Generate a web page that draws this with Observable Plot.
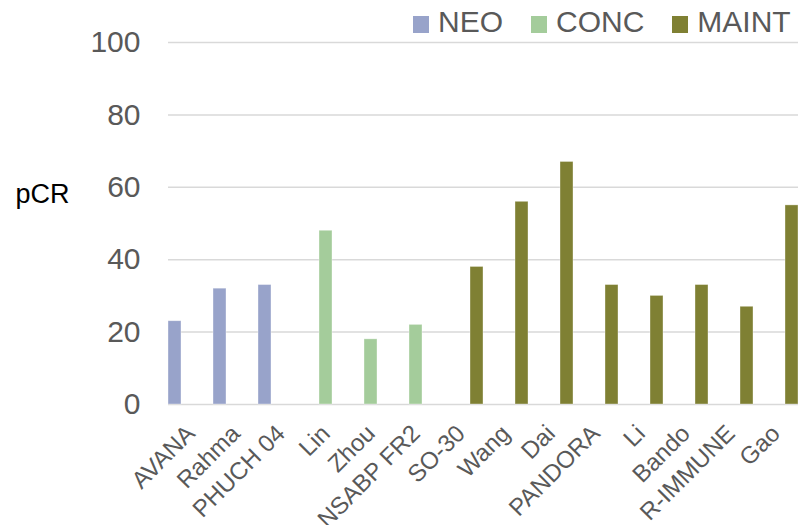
<!DOCTYPE html>
<html>
<head>
<meta charset="utf-8">
<script src="https://cdn.jsdelivr.net/npm/d3@7"></script>
<script src="https://cdn.jsdelivr.net/npm/@observablehq/plot@0.6"></script>
<style>
  html, body { margin: 0; padding: 0; background: #fff; }
  #wrap { position: relative; width: 798px; height: 525px; font-family: "Liberation Sans", Arial, sans-serif; }
  #legend { position: absolute; left: 413px; top: 3px; display: flex; align-items: center; font-size: 30px; color: #595959; line-height: 38px; }
  #legend .item { display: flex; align-items: center; margin-right: 28px; }
  #legend .sw { width: 16px; height: 17px; margin-right: 9px; margin-top: 4px; }
  svg { font-family: "Liberation Sans", Arial, sans-serif; }
</style>
</head>
<body>
<div id="wrap"><div id="legend"></div></div>
<script>
const studies = ["AVANA","Rahma","PHUCH 04","Lin","Zhou","NSABP FR2","SO-30","Wang","Dai","PANDORA","Li","Bando","R-IMMUNE","Gao"];
const groups  = ["NEO","NEO","NEO","CONC","CONC","CONC","MAINT","MAINT","MAINT","MAINT","MAINT","MAINT","MAINT","MAINT"];
const pcr     = [23, 32, 33, 48, 18, 22, 38, 56, 67, 33, 30, 33, 27, 55];
const seriesNames = ["NEO","CONC","MAINT"];
const seriesColors = ["#98A3CA","#A4CC9B","#7F8033"];
const yTicks = [0, 20, 40, 60, 80, 100];

const rows = studies.map((s, i) => ({study: s, group: groups[i], pcr: pcr[i]}));

// inset per series so the three series occupy left / middle / right slots of each band
const insets = {NEO: [0, 32], CONC: [16, 16], MAINT: [32, 0]};

const barMarks = seriesNames.map(g => Plot.barY(rows.filter(d => d.group === g), {
  x: "study", y: "pcr", fill: "group",
  insetLeft: insets[g][0], insetRight: insets[g][1],
  stroke: "white", strokeOpacity: 0.5, strokeWidth: 0.7
}));

const chart = Plot.plot({
  width: 798,
  height: 525,
  marginLeft: 168,
  marginRight: 0,
  marginTop: 42,
  marginBottom: 121,
  x: {domain: studies, padding: 0, align: 0.5},
  y: {domain: [0, 100]},
  color: {domain: seriesNames, range: seriesColors},
  marks: [
    Plot.gridY(yTicks, {stroke: "#d9d9d9", strokeOpacity: 1, strokeWidth: 1.5}),
    ...barMarks,
    Plot.axisY(yTicks, {tickSize: 0, tickPadding: 28, fontSize: 30, fill: "#595959", label: null}),
    Plot.axisX({tickRotate: -45, tickSize: 0, tickPadding: 25, fontSize: 24, fill: "#595959", label: null}),
    Plot.text(["pCR"], {frameAnchor: "left", dx: -153, dy: -29, textAnchor: "start", fontSize: 27, fill: "black"})
  ]
});

document.getElementById("wrap").appendChild(chart);

const legend = document.getElementById("legend");
seriesNames.forEach((n, i) => {
  const it = document.createElement("div");
  it.className = "item";
  const sw = document.createElement("div");
  sw.className = "sw";
  sw.style.background = seriesColors[i];
  const t = document.createElement("span");
  t.textContent = n;
  it.appendChild(sw); it.appendChild(t);
  legend.appendChild(it);
});
</script>
</body>
</html>
